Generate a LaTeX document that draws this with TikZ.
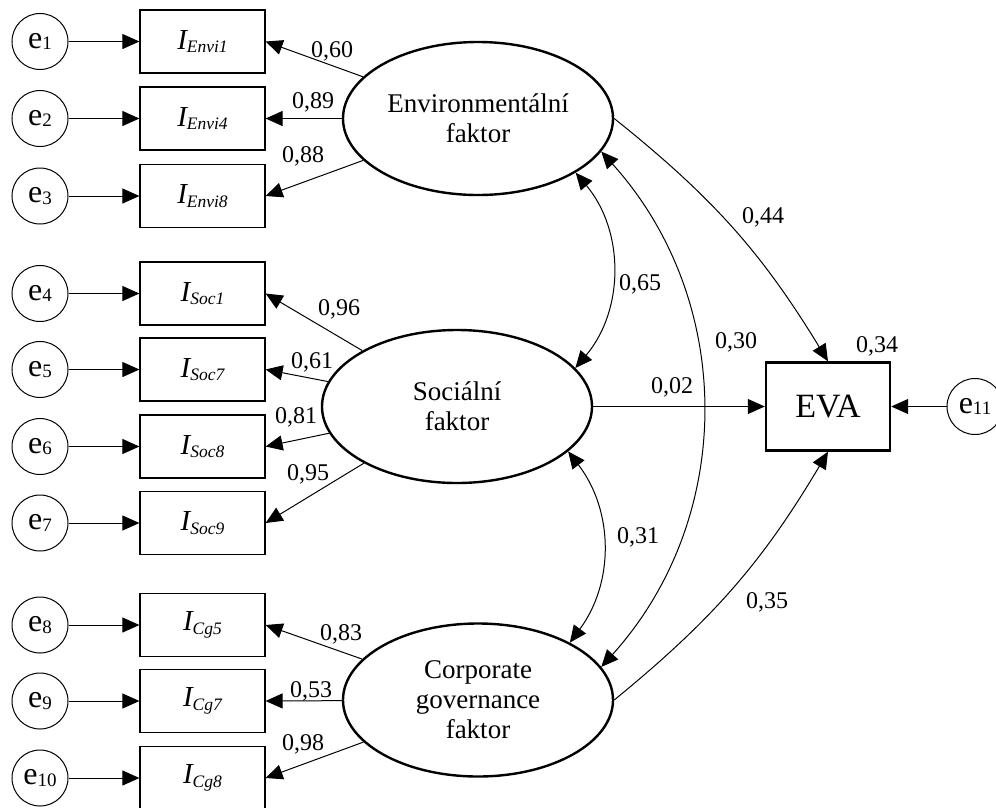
\documentclass[tikz,border=0pt]{standalone}
\usepackage{fontspec}
\setmainfont{Liberation Serif}
\usetikzlibrary{arrows.meta,shapes.geometric}

% error term label: e with a small lowered index
\newcommand\errlab[1]{\fontsize{32}{32}\selectfont e\raisebox{-1.5pt}{\fontsize{19}{19}\selectfont #1}}
% indicator label: italic I with italic lowered index
\newcommand\indlab[1]{\fontsize{29}{29}\selectfont\itshape I\raisebox{-3.5pt}{\fontsize{17.5}{17.5}\selectfont #1}}

\begin{document}
\begin{tikzpicture}[x=1pt,y=1pt,
  tip/.tip={Triangle[length=17pt,width=15pt]},
  conn/.style={line width=1pt,-tip},
  cov/.style={line width=1pt,tip-tip},
  errnode/.style={circle,draw,line width=1pt,minimum size=56pt,inner sep=0pt},
  indbox/.style={rectangle,draw,line width=1.2pt,minimum width=125pt,minimum height=63pt,inner sep=0pt},
  latent/.style={ellipse,draw,line width=2.4pt,minimum width=270pt,minimum height=153pt,inner sep=0pt,
                 align=center,font=\fontsize{27}{30}\selectfont},
  outbox/.style={rectangle,draw,line width=2.4pt,minimum width=124pt,minimum height=88pt,inner sep=0pt,
                 font=\fontsize{34}{34}\selectfont},
  coef/.style={font=\fontsize{24}{24}\selectfont,inner sep=0pt,anchor=base}
]
\useasboundingbox (0,0) rectangle (996,-807);
\clip (0,0) rectangle (996,-807);

% latent factors
\node[latent] (env)  at (478,-118.5) {Environmentální\\faktor};
\node[latent] (soc)  at (457,-406.5) {Sociální\\faktor};
\node[latent] (corp) at (478,-700)   {Corporate\\governance\\faktor};

% outcome and its error
\node[outbox] (eva) at (828,-406.5) {EVA};
\node[errnode] (e11) at (975,-406.5) {\errlab{11}};

% indicators
\node[indbox] (b1)  at (202.5,-41.5)  {\indlab{Envi1}};
\node[indbox] (b2)  at (202.5,-118.5) {\indlab{Envi4}};
\node[indbox] (b3)  at (202.5,-196)   {\indlab{Envi8}};
\node[indbox] (b4)  at (202.5,-293.5) {\indlab{Soc1}};
\node[indbox] (b5)  at (202.5,-369.5) {\indlab{Soc7}};
\node[indbox] (b6)  at (202.5,-446.5) {\indlab{Soc8}};
\node[indbox] (b7)  at (202.5,-523)   {\indlab{Soc9}};
\node[indbox] (b8)  at (202.5,-625)   {\indlab{Cg5}};
\node[indbox] (b9)  at (202.5,-701)   {\indlab{Cg7}};
\node[indbox] (b10) at (202.5,-778)   {\indlab{Cg8}};

% error terms
\node[errnode] (e1)  at (40,-41.5)  {\errlab{1}};
\node[errnode] (e2)  at (40,-118.5) {\errlab{2}};
\node[errnode] (e3)  at (40,-196)   {\errlab{3}};
\node[errnode] (e4)  at (40,-293.5) {\errlab{4}};
\node[errnode] (e5)  at (40,-369.5) {\errlab{5}};
\node[errnode] (e6)  at (40,-446.5) {\errlab{6}};
\node[errnode] (e7)  at (40,-523)   {\errlab{7}};
\node[errnode] (e8)  at (40,-625)   {\errlab{8}};
\node[errnode] (e9)  at (40,-701)   {\errlab{9}};
\node[errnode] (e10) at (40,-778)   {\errlab{10}};

% error -> indicator
\foreach \i in {1,...,10} \draw[conn] (e\i) -- (b\i);
\draw[conn] (e11) -- (eva);

% loadings
\draw[conn] (env) -- (b1.east);
\draw[conn] (env) -- (b2.east);
\draw[conn] (env) -- (b3.east);
\draw[conn] (soc) -- (b4.east);
\draw[conn] (soc) -- (b5.east);
\draw[conn] (soc) -- (b6.east);
\draw[conn] (soc) -- (b7.east);
\draw[conn] (corp) -- (b8.east);
\draw[conn] (corp) -- (b9.east);
\draw[conn] (corp) -- (b10.east);

% structural paths
\draw[conn] (env.east) to[bend left=10] (eva.north);
\draw[conn] (soc) -- (eva);
\draw[conn] (corp.east) to[bend right=10] (eva.south);

% covariances
\draw[cov] (env.-29) to[bend left=40] (soc.18);
\draw[cov] (soc.-22) to[bend left=37] (corp.32);
\draw[cov] (env.-15) to[bend left=42] (corp.15);

% coefficients
\node[coef] (c1)  at (332,-57)  {0,60};
\node[coef] (c2)  at (313,-108) {0,89};
\node[coef] (c3)  at (303,-162) {0,88};
\node[coef] (c4)  at (339,-315) {0,96};
\node[coef] (c5)  at (312,-368) {0,61};
\node[coef] (c6)  at (296,-423) {0,81};
\node[coef] (c7)  at (308,-480) {0,95};
\node[coef] (c8)  at (341,-640) {0,83};
\node[coef] (c9)  at (311,-697) {0,53};
\node[coef] (c10) at (303,-750) {0,98};
\node[coef] (c11) at (763,-223) {0,44};
\node[coef] (c12) at (640,-290) {0,65};
\node[coef] (c13) at (736,-348) {0,30};
\node[coef] (c14) at (672,-393) {0,02};
\node[coef] (c15) at (877,-352) {0,34};
\node[coef] (c16) at (638,-543) {0,31};
\node[coef] (c17) at (767,-608) {0,35};
\end{tikzpicture}
\end{document}
